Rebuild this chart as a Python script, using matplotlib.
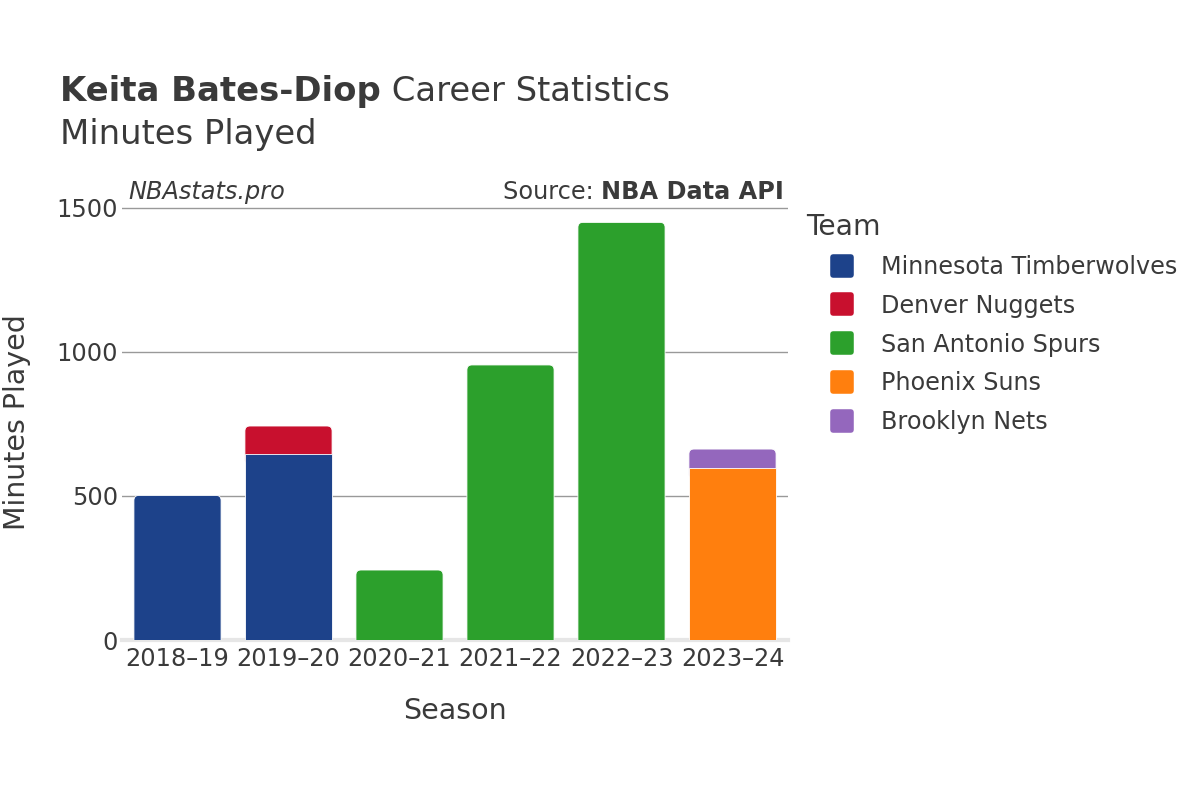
import matplotlib
matplotlib.use("Agg")
import matplotlib.pyplot as plt
from matplotlib.patches import FancyBboxPatch
from matplotlib.lines import Line2D
from matplotlib.markers import MarkerStyle

# ---------------- data ----------------
seasons = ["2018–19", "2019–20", "2020–21", "2021–22", "2022–23", "2023–24"]
teams = ["Minnesota Timberwolves", "Denver Nuggets", "San Antonio Spurs",
         "Phoenix Suns", "Brooklyn Nets"]
team_colors = ["#1d428a", "#c8102e", "#2ca02c", "#ff7f0e", "#9467bd"]
min_timberwolves = [502, 646, 0, 0, 0, 0]
min_nuggets = [0, 97, 0, 0, 0, 0]
min_spurs = [0, 0, 243, 955, 1450, 0]
min_suns = [0, 0, 0, 0, 0, 596]
min_nets = [0, 0, 0, 0, 0, 67]
team_minutes = [min_timberwolves, min_nuggets, min_spurs, min_suns, min_nets]
y_ticks = [0, 500, 1000, 1500]

TXT = "#3a3a3a"
W, H = 1200, 800
fig = plt.figure(figsize=(12, 8), dpi=100)
fig.patch.set_facecolor("white")

ax_l, ax_r, ax_b, ax_t = 122, 788, 640, 200.5
ax = fig.add_axes([ax_l / W, 1 - ax_b / H, (ax_r - ax_l) / W, (ax_b - ax_t) / H])
ymax = 1526
ax.set_xlim(-0.5, len(seasons) - 0.5)
ax.set_ylim(0, ymax)

for s in ax.spines.values():
    s.set_visible(False)
ax.set_yticks(y_ticks)
ax.set_yticklabels([str(v) for v in y_ticks])
ax.set_xticks(range(len(seasons)))
ax.set_xticklabels(seasons)
ax.tick_params(axis="y", length=0, pad=3, labelsize=17.3, labelcolor=TXT)
ax.tick_params(axis="x", length=0, pad=5, labelsize=17.3, labelcolor=TXT)
for v in y_ticks[1:]:
    ax.axhline(v, color="#999999", lw=1, zorder=0.5)
ax.axhline(0, color="#e6e6e6", lw=3, zorder=0.6, clip_on=False)

# rounding geometry
px_x = (ax_r - ax_l) / len(seasons)
px_y = (ax_b - ax_t) / ymax
r_px = 5
r_x = r_px / px_x
asp = (r_px / px_y) / r_x

bar_w = 0.785
bottoms = [0] * len(seasons)
segments = []  # (season index, bottom, height, color)
for tm, col in zip(team_minutes, team_colors):
    for i, v in enumerate(tm):
        if v > 0:
            segments.append((i, bottoms[i], v, col))
            bottoms[i] += v

for (i, b, h, col) in segments:
    is_top = abs(b + h - bottoms[i]) < 1e-9
    rects = ax.bar(i, h, bottom=b, width=bar_w, color=col,
                   edgecolor="white", linewidth=0.6, zorder=3)
    if is_top:
        rect = rects[0]
        rect.set_visible(False)
        ext = 40
        p = FancyBboxPatch((rect.get_x(), rect.get_y() - ext),
                           rect.get_width(), rect.get_height() + ext,
                           boxstyle=f"round,pad=0,rounding_size={r_x}",
                           mutation_aspect=asp, facecolor=col,
                           edgecolor="white", linewidth=0.6, zorder=2)
        ax.add_patch(p)

# ---------------- titles ----------------
def fx(x):
    return x / W
def fy(y):
    return 1 - y / H

TS = 24.4
t1 = fig.text(fx(60), fy(101), "Keita Bates-Diop", fontsize=TS,
              fontweight="bold", color=TXT, va="baseline", ha="left")
fig.canvas.draw()
bb = t1.get_window_extent(renderer=fig.canvas.get_renderer())
fig.text(bb.x1 / W, fy(101), " Career Statistics", fontsize=TS,
         color=TXT, va="baseline", ha="left")
fig.text(fx(60), fy(144), "Minutes Played", fontsize=TS, color=TXT,
         va="baseline", ha="left")

fig.text(fx(128), fy(199), "NBAstats.pro", fontsize=17.3, style="italic",
         color=TXT, va="baseline", ha="left")
t_src = fig.text(fx(784), fy(199), "NBA Data API", fontsize=17.3,
                 fontweight="bold", color=TXT, va="baseline", ha="right")
fig.canvas.draw()
bb2 = t_src.get_window_extent(renderer=fig.canvas.get_renderer())
fig.text(bb2.x0 / W, fy(199), "Source: ", fontsize=17.3, color=TXT,
         va="baseline", ha="right")

fig.text(fx(455), fy(711), "Season", fontsize=20.5, color=TXT,
         ha="center", va="center")
fig.text(fx(17), fy(422), "Minutes Played", fontsize=20.5, color=TXT,
         ha="center", va="center", rotation=90)

# ---------------- legend ----------------
fig.text(fx(806), fy(227), "Team", fontsize=20.3, color=TXT,
         ha="left", va="center")
handles = [Line2D([], [], linestyle="none",
                  marker=MarkerStyle("s", joinstyle="round"),
                  markersize=12.5, markerfacecolor=c, markeredgecolor=c,
                  markeredgewidth=4)
           for c in team_colors]
leg = fig.legend(handles, teams, loc="upper left",
                 bbox_to_anchor=(fx(825), fy(255)), frameon=False,
                 fontsize=17.2, labelcolor=TXT, handlelength=1.4,
                 handletextpad=0.96, labelspacing=0.62, borderaxespad=0,
                 borderpad=0)

fig.savefig("out.png", dpi=100, facecolor="white")
